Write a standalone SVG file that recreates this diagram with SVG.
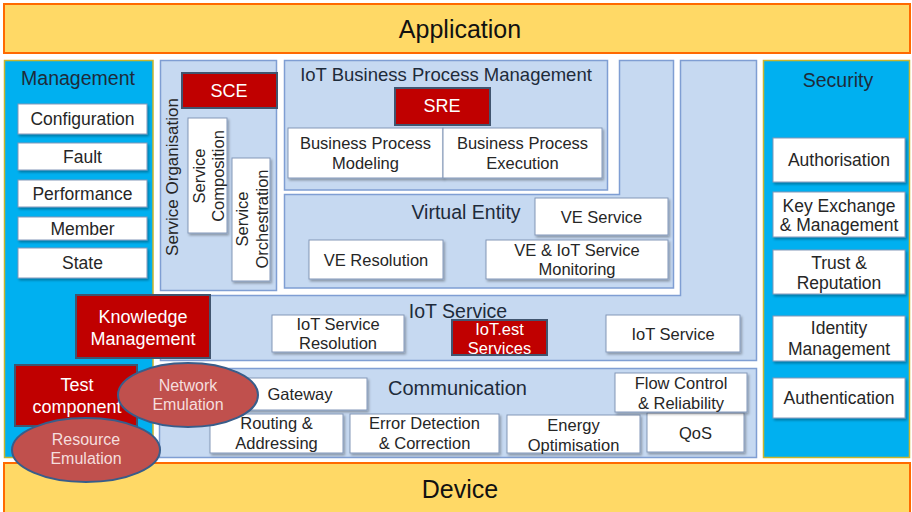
<svg xmlns="http://www.w3.org/2000/svg" width="912" height="512" viewBox="0 0 912 512">
<style>
text{font-family:"Liberation Sans",Arial,sans-serif;fill:#262626;text-anchor:middle}
.bar{fill:#FFD966;stroke:#FF6A00;stroke-width:2}
.side{fill:#00B0F0;stroke:#C9B52C;stroke-width:1.5}
.pan{fill:#C6D9F1;stroke:#7F9ED3;stroke-width:1.5}
.box{fill:#FFFFFF;stroke:#8397B8;stroke-width:1;filter:url(#sh)}
.red{fill:#C00000;stroke:#41556F;stroke-width:2}
.ell{fill:#C0504D;stroke:#385D8A;stroke-width:2}
.t17{font-size:17.5px}
.t16{font-size:16.5px}
.ttl{font-size:19.5px;fill:#1E2B3A}
.big{font-size:25px;fill:#111}
.wt{fill:#FFFFFF;font-size:18px}
.pk{fill:#F5DEDD;font-size:16px}
</style>
<defs>
<filter id="sh" x="-10%" y="-10%" width="130%" height="150%">
<feDropShadow dx="1.5" dy="2" stdDeviation="1" flood-color="#000" flood-opacity="0.3"/>
</filter>
</defs>
<rect width="912" height="512" fill="#FFFFFF"/>

<g id="application"><rect class="bar" x="4" y="4" width="906" height="49"/><text class="big" x="460" y="38">Application</text></g>

<g id="management">
<rect class="side" x="4.5" y="60.5" width="148.5" height="397"/>
<text class="ttl" x="78" y="85">Management</text>
<g id="configuration"><rect class="box" x="18" y="104" width="129" height="30"/><text class="t17" x="82.5" y="125">Configuration</text></g>
<g id="fault"><rect class="box" x="18" y="143" width="129" height="27"/><text class="t17" x="82.5" y="163">Fault</text></g>
<g id="performance"><rect class="box" x="18" y="180" width="129" height="27"/><text class="t17" x="82.5" y="200">Performance</text></g>
<g id="member"><rect class="box" x="18" y="217" width="129" height="23"/><text class="t17" x="82.5" y="235">Member</text></g>
<g id="state"><rect class="box" x="18" y="248" width="129" height="30"/><text class="t17" x="82.5" y="269">State</text></g>
</g>

<g id="security">
<rect class="side" x="763.5" y="60.5" width="146" height="397"/>
<text class="ttl" x="838" y="87">Security</text>
<g id="authorisation"><rect class="box" x="773" y="138" width="132" height="44"/><text class="t17" x="839" y="166">Authorisation</text></g>
<g id="key-exchange"><rect class="box" x="773" y="192" width="132" height="45"/><text class="t17" x="839" y="212">Key Exchange</text><text class="t17" x="839" y="231">&amp; Management</text></g>
<g id="trust"><rect class="box" x="773" y="250" width="132" height="44"/><text class="t17" x="839" y="269">Trust &amp;</text><text class="t17" x="839" y="289">Reputation</text></g>
<g id="identity"><rect class="box" x="773" y="316" width="132" height="45"/><text class="t17" x="839" y="334">Identity</text><text class="t17" x="839" y="355">Management</text></g>
<g id="authentication"><rect class="box" x="773" y="378" width="132" height="40"/><text class="t17" x="839" y="404">Authentication</text></g>
</g>

<g id="iot-service">
<path class="pan" d="M160.5,295.5 H680.5 V60.5 H756.5 V360.5 H160.5 Z"/>
<text class="ttl" x="458" y="318">IoT Service</text>
<g id="iot-service-resolution"><rect class="box" x="272" y="315" width="132" height="37"/><text class="t16" x="338" y="330">IoT Service</text><text class="t16" x="338" y="349">Resolution</text></g>
<g id="iotest-services"><rect class="red" x="452" y="320" width="95" height="35"/><text class="wt" style="font-size:16.5px" x="499.5" y="335">IoT.est</text><text class="wt" style="font-size:16.5px" x="499.5" y="354">Services</text></g>
<g id="iot-service-box"><rect class="box" x="606" y="315" width="134" height="37"/><text class="t16" x="673" y="340">IoT Service</text></g>
</g>

<g id="service-organisation">
<rect class="pan" x="160.5" y="60.5" width="116" height="230"/>
<text class="t17" style="font-size:17px" transform="translate(178,177) rotate(-90)">Service Organisation</text>
<g id="service-composition"><rect class="box" x="188" y="118" width="39" height="115"/><text class="t16" transform="translate(205,176) rotate(-90)">Service</text><text class="t16" transform="translate(224,176) rotate(-90)">Composition</text></g>
<g id="service-orchestration"><rect class="box" x="232" y="158" width="38" height="123"/><text class="t16" transform="translate(248,219) rotate(-90)">Service</text><text class="t16" transform="translate(268,219) rotate(-90)">Orchestration</text></g>
<g id="sce"><rect class="red" x="182" y="73" width="95" height="35"/><text class="wt" x="229" y="97">SCE</text></g>
</g>

<g id="bpm">
<rect class="pan" x="284.5" y="60.5" width="323" height="129.5"/>
<text class="ttl" style="font-size:18.5px" x="446" y="81">IoT Business Process Management</text>
<g id="sre"><rect class="red" x="395" y="88" width="95" height="37"/><text class="wt" x="442" y="112">SRE</text></g>
<g id="bp-modeling"><rect class="box" x="288" y="128" width="155" height="50"/><text class="t16" x="365.5" y="149">Business Process</text><text class="t16" x="365.5" y="169">Modeling</text></g>
<g id="bp-execution"><rect class="box" x="443" y="128" width="159" height="50"/><text class="t16" x="522.5" y="149">Business Process</text><text class="t16" x="522.5" y="169">Execution</text></g>
</g>

<g id="virtual-entity">
<path class="pan" d="M284.5,194.5 H619.5 V60.5 H673.5 V288 H284.5 Z"/>
<text class="ttl" x="466" y="219">Virtual Entity</text>
<g id="ve-service"><rect class="box" x="535" y="198" width="133" height="37"/><text class="t16" x="601.5" y="223">VE Service</text></g>
<g id="ve-monitoring"><rect class="box" x="486" y="240" width="182" height="39"/><text class="t16" x="577" y="256">VE &amp; IoT Service</text><text class="t16" x="577" y="275">Monitoring</text></g>
<g id="ve-resolution"><rect class="box" x="309" y="240" width="134" height="39"/><text class="t16" x="376" y="266">VE Resolution</text></g>
</g>

<g id="communication">
<rect class="pan" x="159.5" y="368.5" width="597" height="89"/>
<text class="ttl" style="font-size:20px" x="457.5" y="395">Communication</text>
<g id="gateway"><rect class="box" x="233" y="378" width="134" height="32"/><text class="t16" x="300" y="400">Gateway</text></g>
<g id="routing"><rect class="box" x="210" y="414" width="133" height="39"/><text class="t16" x="276.5" y="429">Routing &amp;</text><text class="t16" x="276.5" y="449">Addressing</text></g>
<g id="error-detection"><rect class="box" x="350" y="414" width="149" height="39"/><text class="t16" x="424.5" y="429">Error Detection</text><text class="t16" x="424.5" y="449">&amp; Correction</text></g>
<g id="energy"><rect class="box" x="507" y="415" width="133" height="38"/><text class="t16" x="573.5" y="431">Energy</text><text class="t16" x="573.5" y="451">Optimisation</text></g>
<g id="qos"><rect class="box" x="647" y="413" width="97" height="39"/><text class="t16" x="695.5" y="439">QoS</text></g>
<g id="flow-control"><rect class="box" x="615" y="373" width="132" height="39"/><text class="t16" x="681" y="389">Flow Control</text><text class="t16" x="681" y="409">&amp; Reliability</text></g>
</g>

<g id="knowledge-management"><rect class="red" x="76" y="295" width="134" height="63"/><text class="wt" x="143" y="323">Knowledge</text><text class="wt" x="143" y="345">Management</text></g>

<g id="test-component"><rect class="red" x="15" y="365" width="122" height="61"/><text class="wt" x="77" y="391">Test</text><text class="wt" x="77" y="413">component</text></g>

<g id="device"><rect class="bar" x="4" y="463" width="906" height="52"/><text class="big" x="460" y="498">Device</text></g>

<g id="network-emulation"><ellipse class="ell" cx="188" cy="395" rx="70" ry="32"/><text class="pk" x="188" y="391">Network</text><text class="pk" x="188" y="410">Emulation</text></g>

<g id="resource-emulation"><ellipse class="ell" cx="86" cy="450" rx="74" ry="32"/><text class="pk" x="86" y="445">Resource</text><text class="pk" x="86" y="464">Emulation</text></g>

<g id="connectors"></g>
</svg>
